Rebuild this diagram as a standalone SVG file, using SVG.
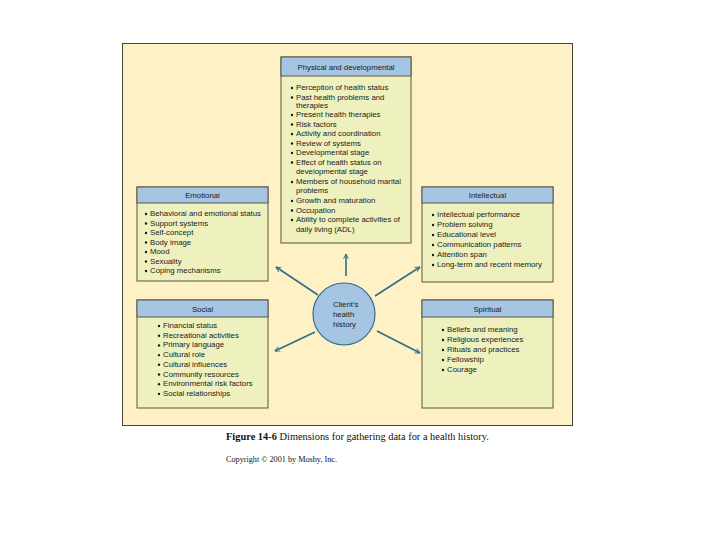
<svg xmlns="http://www.w3.org/2000/svg" width="720" height="540" viewBox="0 0 720 540">
<style>
.panel{fill:#FDF1C5;stroke:#4a4230;stroke-width:1}
.box{fill:#EEF1BE;stroke:#5a5440;stroke-width:1}
.hdr{fill:#A5C5E2;stroke:#5a5440;stroke-width:1}
.ht{font-family:"Liberation Sans",Arial,sans-serif;font-size:7.8px;fill:#1a1a1a;text-anchor:middle}
.it{font-family:"Liberation Sans",Arial,sans-serif;font-size:7.8px;fill:#1a1a1a}
.b{fill:#1a1a1a}
.arr{stroke:#2F6F88;stroke-width:1.6;fill:none;marker-end:url(#ah)}
.cap{font-family:"Liberation Serif","Times New Roman",serif;fill:#111}
</style>
<defs>
<marker id="ah" viewBox="0 0 10 10" refX="9" refY="5" markerWidth="6" markerHeight="6" orient="auto" markerUnits="userSpaceOnUse">
<polyline points="1,1 9,5 1,9" fill="none" stroke="#2F6F88" stroke-width="1.6"/>
</marker>
</defs>
<rect width="720" height="540" fill="#ffffff"/>
<rect class="panel" x="122.5" y="43.5" width="450" height="382"/>

<g id="connectors">
<line class="arr" x1="346" y1="276" x2="346" y2="254"/>
<line class="arr" x1="318" y1="295" x2="276" y2="267"/>
<line class="arr" x1="375" y1="296" x2="420" y2="267"/>
<line class="arr" x1="315" y1="332" x2="275" y2="351"/>
<line class="arr" x1="377" y1="331" x2="420" y2="353"/>
</g>

<g id="physical">
<rect class="box" x="281" y="57" width="130" height="186"/>
<rect class="hdr" x="281" y="57" width="130" height="19"/>
<text class="ht" x="346" y="70">Physical and developmental</text>
<circle class="b" cx="292" cy="88" r="1.2"/><text class="it" x="296" y="90">Perception of health status</text>
<circle class="b" cx="292" cy="97.5" r="1.2"/><text class="it" x="296" y="99.5">Past health problems and</text>
<text class="it" x="296" y="108">therapies</text>
<circle class="b" cx="292" cy="115" r="1.2"/><text class="it" x="296" y="117">Present health therapies</text>
<circle class="b" cx="292" cy="124.5" r="1.2"/><text class="it" x="296" y="126.5">Risk factors</text>
<circle class="b" cx="292" cy="134" r="1.2"/><text class="it" x="296" y="136">Activity and coordination</text>
<circle class="b" cx="292" cy="143.5" r="1.2"/><text class="it" x="296" y="145.5">Review of systems</text>
<circle class="b" cx="292" cy="153" r="1.2"/><text class="it" x="296" y="155">Developmental stage</text>
<circle class="b" cx="292" cy="162.5" r="1.2"/><text class="it" x="296" y="164.5">Effect of health status on</text>
<text class="it" x="296" y="174">developmental stage</text>
<circle class="b" cx="292" cy="182" r="1.2"/><text class="it" x="296" y="184">Members of household marital</text>
<text class="it" x="296" y="193">problems</text>
<circle class="b" cx="292" cy="201" r="1.2"/><text class="it" x="296" y="203">Growth and maturation</text>
<circle class="b" cx="292" cy="210.5" r="1.2"/><text class="it" x="296" y="212.5">Occupation</text>
<circle class="b" cx="292" cy="220" r="1.2"/><text class="it" x="296" y="222">Ability to complete activities of</text>
<text class="it" x="296" y="231.5">daily living (ADL)</text>
</g>

<g id="emotional">
<rect class="box" x="137" y="187" width="131" height="94"/>
<rect class="hdr" x="137" y="187" width="131" height="16"/>
<text class="ht" x="202.5" y="198">Emotional</text>
<circle class="b" cx="146" cy="214" r="1.2"/><text class="it" x="150" y="216">Behavioral and emotional status</text>
<circle class="b" cx="146" cy="223.5" r="1.2"/><text class="it" x="150" y="225.5">Support systems</text>
<circle class="b" cx="146" cy="233" r="1.2"/><text class="it" x="150" y="235">Self-concept</text>
<circle class="b" cx="146" cy="242.5" r="1.2"/><text class="it" x="150" y="244.5">Body image</text>
<circle class="b" cx="146" cy="252" r="1.2"/><text class="it" x="150" y="254">Mood</text>
<circle class="b" cx="146" cy="261.5" r="1.2"/><text class="it" x="150" y="263.5">Sexuality</text>
<circle class="b" cx="146" cy="271" r="1.2"/><text class="it" x="150" y="273">Coping mechanisms</text>
</g>

<g id="intellectual">
<rect class="box" x="422" y="187" width="131" height="95"/>
<rect class="hdr" x="422" y="187" width="131" height="16"/>
<text class="ht" x="487.5" y="198">Intellectual</text>
<circle class="b" cx="433" cy="215" r="1.2"/><text class="it" x="437" y="217">Intellectual performance</text>
<circle class="b" cx="433" cy="225" r="1.2"/><text class="it" x="437" y="227">Problem solving</text>
<circle class="b" cx="433" cy="235" r="1.2"/><text class="it" x="437" y="237">Educational level</text>
<circle class="b" cx="433" cy="245" r="1.2"/><text class="it" x="437" y="247">Communication patterns</text>
<circle class="b" cx="433" cy="255" r="1.2"/><text class="it" x="437" y="257">Attention span</text>
<circle class="b" cx="433" cy="265" r="1.2"/><text class="it" x="437" y="267">Long-term and recent memory</text>
</g>

<g id="social">
<rect class="box" x="137" y="300" width="131" height="108"/>
<rect class="hdr" x="137" y="300" width="131" height="17"/>
<text class="ht" x="202.5" y="312">Social</text>
<circle class="b" cx="159" cy="326" r="1.2"/><text class="it" x="163" y="328">Financial status</text>
<circle class="b" cx="159" cy="335.7" r="1.2"/><text class="it" x="163" y="337.7">Recreational activities</text>
<circle class="b" cx="159" cy="345.4" r="1.2"/><text class="it" x="163" y="347.4">Primary language</text>
<circle class="b" cx="159" cy="355.1" r="1.2"/><text class="it" x="163" y="357.1">Cultural role</text>
<circle class="b" cx="159" cy="364.8" r="1.2"/><text class="it" x="163" y="366.8">Cultural influences</text>
<circle class="b" cx="159" cy="374.5" r="1.2"/><text class="it" x="163" y="376.5">Community resources</text>
<circle class="b" cx="159" cy="384.2" r="1.2"/><text class="it" x="163" y="386.2">Environmental risk factors</text>
<circle class="b" cx="159" cy="393.9" r="1.2"/><text class="it" x="163" y="395.9">Social relationships</text>
</g>

<g id="spiritual">
<rect class="box" x="422" y="300" width="131" height="108"/>
<rect class="hdr" x="422" y="300" width="131" height="17"/>
<text class="ht" x="487.5" y="312">Spiritual</text>
<circle class="b" cx="443" cy="330" r="1.2"/><text class="it" x="447" y="332">Beliefs and meaning</text>
<circle class="b" cx="443" cy="340" r="1.2"/><text class="it" x="447" y="342">Religious experiences</text>
<circle class="b" cx="443" cy="350" r="1.2"/><text class="it" x="447" y="352">Rituals and practices</text>
<circle class="b" cx="443" cy="360" r="1.2"/><text class="it" x="447" y="362">Fellowship</text>
<circle class="b" cx="443" cy="370" r="1.2"/><text class="it" x="447" y="372">Courage</text>
</g>

<g id="center">
<circle cx="344" cy="314" r="31" fill="#A5C5E2" stroke="#2F6F88" stroke-width="1.2"/>
<text class="it" x="333" y="307">Client's</text>
<text class="it" x="333" y="317">health</text>
<text class="it" x="333" y="327">history</text>
</g>

<text class="cap" x="226" y="440" font-size="10.4"><tspan font-weight="bold">Figure 14-6</tspan>  Dimensions for gathering data for a health history.</text>
<text class="cap" x="226" y="462" font-size="8.2">Copyright © 2001 by Mosby, Inc.</text>
</svg>
